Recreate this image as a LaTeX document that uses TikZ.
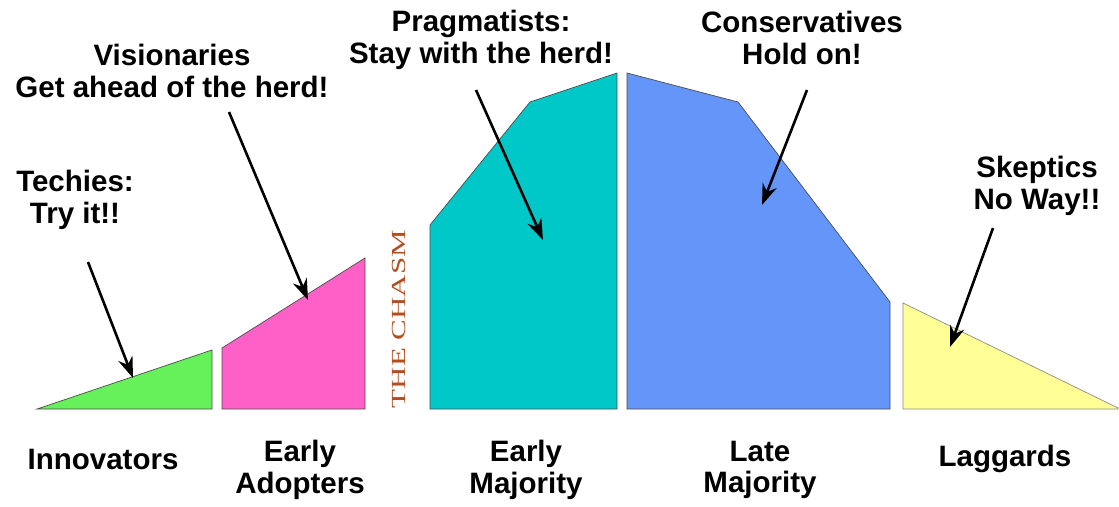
\documentclass[tikz,border=0pt]{standalone}
\usepackage{fontspec}
\setmainfont{Liberation Sans}
\newfontfamily\chasmfont{Liberation Serif}
\usetikzlibrary{arrows.meta}

\definecolor{innogreen}{RGB}{102,240,90}
\definecolor{adoptpink}{RGB}{255,96,200}
\definecolor{earlyteal}{RGB}{0,200,200}
\definecolor{lateblue}{RGB}{100,150,250}
\definecolor{laggyellow}{RGB}{255,255,150}
\definecolor{chasmred}{RGB}{178,78,32}

\begin{document}
\begin{tikzpicture}[
    x=1pt, y=-1pt,
    segment/.style={draw=black!70, line width=0.7pt},
    grouptxt/.style={align=center, inner sep=0pt, font=\fontsize{29.5}{31.5}\selectfont\bfseries},
    arrow/.style={line width=2.6pt, -{Stealth[length=21pt, width=15pt]}},
]
    \fill[white] (0,0) rectangle (1119,506);
    \useasboundingbox (0,0) rectangle (1119,506);

    % Adoption segments
    \filldraw[segment, fill=innogreen] (37,409) -- (212,350) -- (212,409) -- cycle;
    \filldraw[segment, fill=adoptpink] (222,409) -- (222,348) -- (365,258) -- (365,409) -- cycle;
    \filldraw[segment, fill=earlyteal] (430,409) -- (430,225) -- (530,102) -- (617,73) -- (617,409) -- cycle;
    \filldraw[segment, fill=lateblue] (627,409) -- (627,73) -- (738,102) -- (890,302) -- (890,409) -- cycle;
    \filldraw[segment, draw=black!45, fill=laggyellow] (903,409) -- (903,303) -- (1118,408) -- (1118,409) -- cycle;

    \node (chasm) [rotate=90, xscale=1.55, inner sep=0pt, text=chasmred,
        font=\chasmfont\fontsize{20}{20}\selectfont] at (399,319) {THE CHASM};

    % Group names
    \node (innovators) [grouptxt] at (103,459) {Innovators};
    \node (adopters) [grouptxt] at (300,470) {Early\\Adopters};
    \node (earlymaj) [grouptxt] at (526,470) {Early\\Majority};
    \node (latemaj) [grouptxt] at (760,470) {Late\\Majority};
    \node (laggards) [grouptxt] at (1005,459) {Laggards};

    % Attitudes
    \node (techies) [grouptxt] at (75,200) {Techies:\\Try it!!};
    \node (visionaries) [grouptxt] at (172,71) {Visionaries\\Get ahead of the herd!};
    \node (pragmatists) [grouptxt] at (481,40) {Pragmatists:\\Stay with the herd!};
    \node (conservatives) [grouptxt] at (802,38) {Conservatives\\Hold on!};
    \node (skeptics) [grouptxt] at (1037,186) {Skeptics\\No Way!!};

    \coordinate (techies_from) at (88,262);
    \coordinate (techies_to) at (133,378);
    \coordinate (vision_from) at (229,112);
    \coordinate (vision_to) at (308,300);
    \coordinate (prag_from) at (476,90);
    \coordinate (prag_to) at (543,240);
    \coordinate (cons_from) at (807,90);
    \coordinate (cons_to) at (762,205);
    \coordinate (skep_from) at (993,228);
    \coordinate (skep_to) at (950,347);

    \draw [arrow] (techies_from) -- (techies_to);
    \draw [arrow] (vision_from) -- (vision_to);
    \draw [arrow] (prag_from) -- (prag_to);
    \draw [arrow] (cons_from) -- (cons_to);
    \draw [arrow] (skep_from) -- (skep_to);

\end{tikzpicture}
\end{document}
